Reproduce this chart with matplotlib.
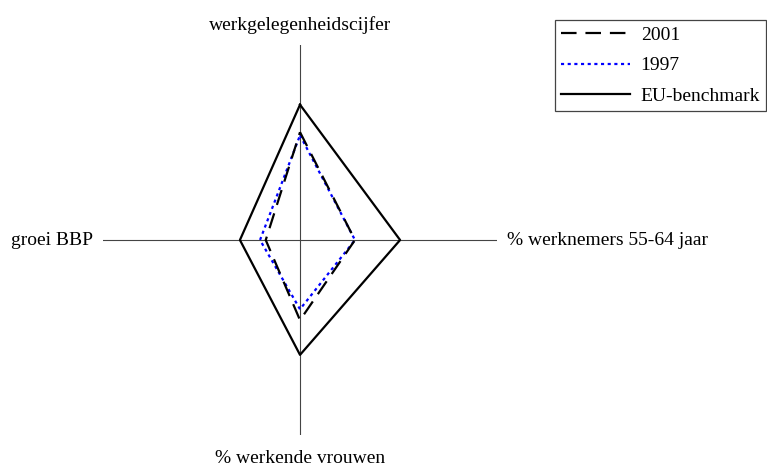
import numpy as np
import matplotlib.pyplot as plt

plt.rcParams['font.family'] = ['Liberation Serif', 'DejaVu Serif']

# axes in order: top, right, bottom, left
categories = ['werkgelegenheidscijfer', '% werknemers 55-64 jaar',
              '% werkende vrouwen', 'groei BBP']
eu = [69.4, 50.8, 58.9, 30.5]
y2001 = [55.3, 27.9, 41.1, 17.4]
y1997 = [53.7, 27.9, 35.5, 20.3]

# directions of the four axes
dirs = np.array([[0, 1], [1, 0], [0, -1], [-1, 0]])

def xy(vals):
    v = np.array(vals + vals[:1])
    d = np.vstack([dirs, dirs[:1]])
    return d[:, 0] * v, d[:, 1] * v

fig = plt.figure(figsize=(7.67, 4.68), dpi=100)
ax = fig.add_axes([0.1343, 0.0705, 0.5137, 0.8333])
ax.set_xlim(-100, 100)
ax.set_ylim(-100, 100)
ax.axis('off')

ax.plot([-100, 100], [0, 0], color='#444444', lw=0.8, zorder=1)
ax.plot([0, 0], [-100, 100], color='#444444', lw=0.8, zorder=1)

x, y = xy(eu)
ax.plot(x, y, color='black', lw=1.6, label='EU-benchmark', zorder=2)
x, y = xy(y1997)
ax.plot(x, y, color='blue', lw=1.6, ls=(0, (1.4, 1.6)),
        dash_capstyle='butt', label='1997', zorder=3)
x, y = xy(y2001)
ax.plot(x, y, color='black', lw=1.6, ls=(0, (7, 4)),
        dash_capstyle='butt', label='2001', zorder=4)

fs = 14
ax.annotate(categories[0], (0, 100), xytext=(0, 10.8), textcoords='offset points',
            ha='center', va='baseline', fontsize=fs)
ax.annotate(categories[1], (100, 0), xytext=(7.2, 0), textcoords='offset points',
            ha='left', va='center', fontsize=fs)
ax.annotate(categories[2], (0, -100), xytext=(0, -20.5), textcoords='offset points',
            ha='center', va='baseline', fontsize=fs)
ax.annotate(categories[3], (-100, 0), xytext=(-7.2, 0), textcoords='offset points',
            ha='right', va='center', fontsize=fs)

handles, labels = ax.get_legend_handles_labels()
order = [2, 1, 0]
leg = fig.legend([handles[i] for i in order], [labels[i] for i in order],
                 loc='upper right', bbox_to_anchor=(0.9987, 0.957),
                 borderaxespad=0, fontsize=14, handlelength=3.55,
                 handletextpad=0.56, labelspacing=0.68, borderpad=0.3,
                 fancybox=False, edgecolor='#444444', framealpha=1)
leg.get_frame().set_linewidth(0.9)

fig.savefig('out.png', dpi=100)
